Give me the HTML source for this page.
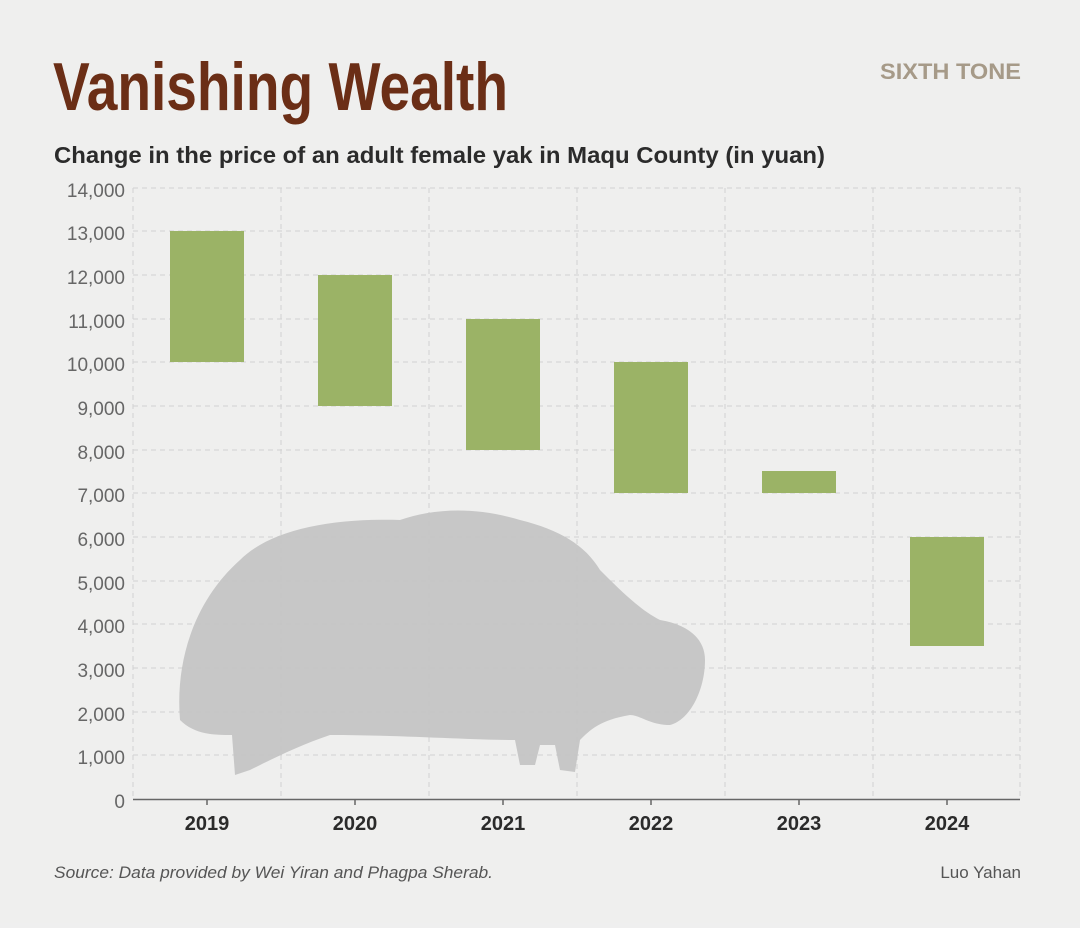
<!DOCTYPE html>
<html><head><meta charset="utf-8"><style>
html,body{margin:0;padding:0;background:#efefef;}
body{width:1080px;height:923px;overflow:hidden;position:relative;font-family:"Liberation Sans",sans-serif;}
</style></head><body>
<svg width="1080" height="923" viewBox="0 0 1080 923" xmlns="http://www.w3.org/2000/svg">
<rect width="1080" height="923" fill="#efefee"/>
<text x="53" y="110" font-family="Liberation Sans Narrow, Liberation Sans, sans-serif" font-weight="bold" font-size="68" fill="#6b2e16" textLength="455" lengthAdjust="spacingAndGlyphs">Vanishing Wealth</text>
<text x="1021" y="79" text-anchor="end" font-weight="bold" font-size="22" fill="#a69a88" textLength="141" lengthAdjust="spacingAndGlyphs">SIXTH TONE</text>
<text x="54" y="163" font-weight="bold" font-size="23" fill="#2b2b2b" textLength="771" lengthAdjust="spacingAndGlyphs">Change in the price of an adult female yak in Maqu County (in yuan)</text>
<g stroke="#d2d2d2" stroke-width="1" stroke-dasharray="5,4">
<line x1="133" y1="188" x2="1020" y2="188"/><line x1="133" y1="231" x2="1020" y2="231"/><line x1="133" y1="275" x2="1020" y2="275"/><line x1="133" y1="319" x2="1020" y2="319"/><line x1="133" y1="362" x2="1020" y2="362"/><line x1="133" y1="406" x2="1020" y2="406"/><line x1="133" y1="450" x2="1020" y2="450"/><line x1="133" y1="493" x2="1020" y2="493"/><line x1="133" y1="537" x2="1020" y2="537"/><line x1="133" y1="581" x2="1020" y2="581"/><line x1="133" y1="624" x2="1020" y2="624"/><line x1="133" y1="668" x2="1020" y2="668"/><line x1="133" y1="712" x2="1020" y2="712"/><line x1="133" y1="755" x2="1020" y2="755"/>
<line x1="133" y1="188" x2="133" y2="799"/><line x1="281" y1="188" x2="281" y2="799"/><line x1="429" y1="188" x2="429" y2="799"/><line x1="577" y1="188" x2="577" y2="799"/><line x1="725" y1="188" x2="725" y2="799"/><line x1="873" y1="188" x2="873" y2="799"/><line x1="1020" y1="188" x2="1020" y2="799"/>
</g>
<path d="M180,720 C175,660 195,600 240,560 C270,530 330,518 400,520 C430,510 470,505 520,520 C560,530 585,545 600,570 C620,590 640,610 660,620 C690,625 705,640 705,660 C705,690 690,720 670,725 C650,725 640,715 630,715 C600,720 590,730 580,740 L575,772 L560,770 L555,745 L540,745 L535,765 L520,765 L515,740 C470,740 400,735 330,735 C300,745 270,760 250,770 L235,775 L232,735 C215,735 195,735 180,720 Z" fill="#c2c2c2" opacity="0.9"/>
<g fill="#9bb366">
<rect x="170" y="231" width="74" height="131"/>
<rect x="318" y="275" width="74" height="131"/>
<rect x="466" y="319" width="74" height="131"/>
<rect x="614" y="362" width="74" height="131"/>
<rect x="762" y="471" width="74" height="22"/>
<rect x="910" y="537" width="74" height="109"/>
</g>
<line x1="133" y1="799.5" x2="1020" y2="799.5" stroke="#666" stroke-width="1.5"/>
<g stroke="#666" stroke-width="1.5"><line x1="207" y1="800" x2="207" y2="805"/><line x1="355" y1="800" x2="355" y2="805"/><line x1="503" y1="800" x2="503" y2="805"/><line x1="651" y1="800" x2="651" y2="805"/><line x1="799" y1="800" x2="799" y2="805"/><line x1="947" y1="800" x2="947" y2="805"/></g>
<g font-size="19" fill="#666" text-anchor="end">
<text x="125" y="197">14,000</text><text x="125" y="240">13,000</text><text x="125" y="284">12,000</text><text x="125" y="328">11,000</text><text x="125" y="371">10,000</text><text x="125" y="415">9,000</text><text x="125" y="459">8,000</text><text x="125" y="502">7,000</text><text x="125" y="546">6,000</text><text x="125" y="590">5,000</text><text x="125" y="633">4,000</text><text x="125" y="677">3,000</text><text x="125" y="721">2,000</text><text x="125" y="764">1,000</text><text x="125" y="808">0</text>
</g>
<g font-size="20" font-weight="bold" fill="#2b2b2b" text-anchor="middle">
<text x="207" y="830">2019</text><text x="355" y="830">2020</text><text x="503" y="830">2021</text><text x="651" y="830">2022</text><text x="799" y="830">2023</text><text x="947" y="830">2024</text>
</g>
<text x="54" y="878" font-size="17" font-style="italic" fill="#555" textLength="439" lengthAdjust="spacingAndGlyphs">Source: Data provided by Wei Yiran and Phagpa Sherab.</text>
<text x="1021" y="878" font-size="17" fill="#555" text-anchor="end">Luo Yahan</text>
</svg>
</body></html>
